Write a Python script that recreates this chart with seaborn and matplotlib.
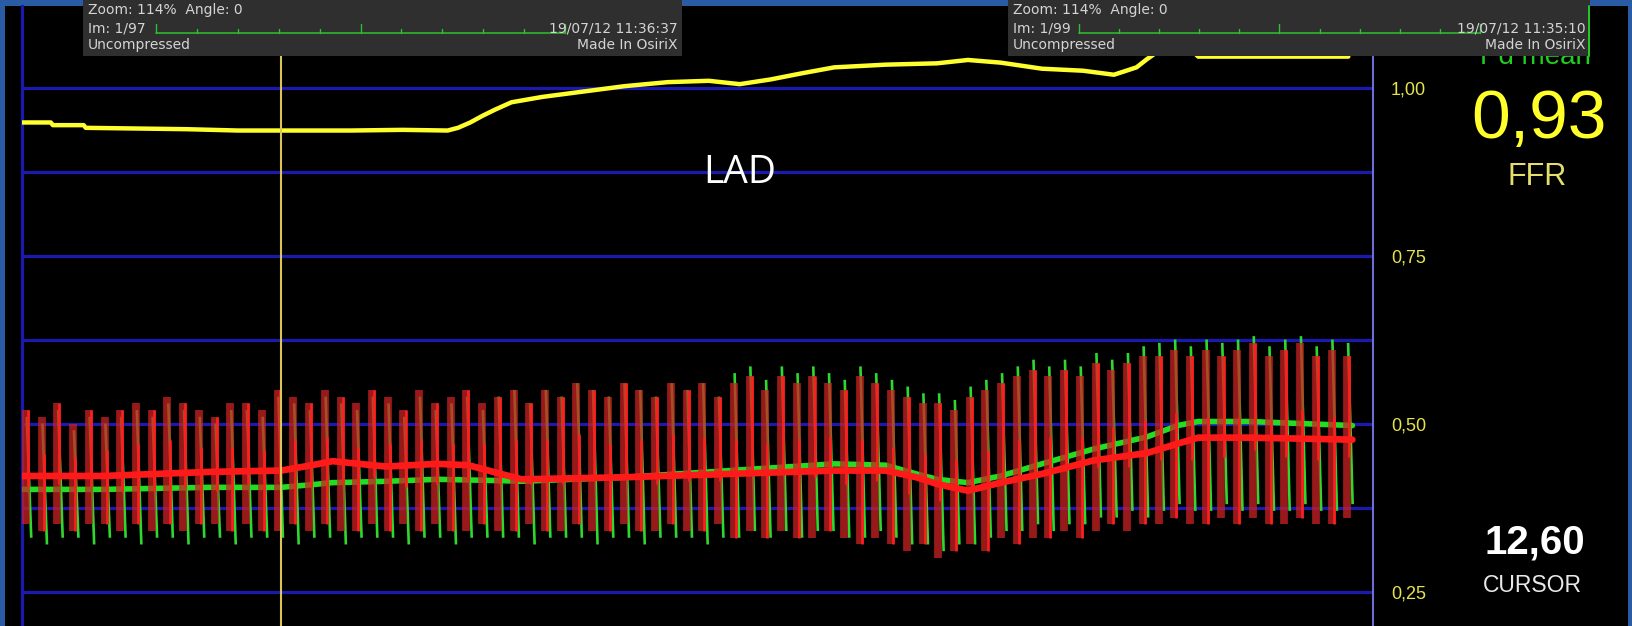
import numpy as np
import pandas as pd
import matplotlib
matplotlib.use("Agg")
import matplotlib.pyplot as plt
from matplotlib.patches import Rectangle
from matplotlib.lines import Line2D
from matplotlib.collections import LineCollection
import seaborn as sns

# ---------------- data ----------------
# FFR trace (Pd/Pa), time in seconds
ffr_t = [0.0, 1.4, 1.5, 3.0, 3.1, 8.0, 10.5, 16.0, 18.5, 20.7, 21.2, 21.8, 22.4, 23.0,
         23.8, 25.3, 27.3, 29.3, 31.4, 33.4, 34.9, 36.4, 37.9, 39.5, 42.0, 44.5, 46.0,
         47.6, 49.6, 51.6, 53.1, 54.2, 54.7, 55.3, 56.8, 57.2, 64.5]
ffr_v = [0.948, 0.948, 0.944, 0.944, 0.940, 0.938, 0.936, 0.936, 0.937, 0.936, 0.940,
         0.948, 0.958, 0.967, 0.978, 0.986, 0.994, 1.002, 1.008, 1.010, 1.005, 1.012,
         1.021, 1.030, 1.034, 1.036, 1.041, 1.037, 1.028, 1.025, 1.019, 1.030, 1.042,
         1.055, 1.058, 1.046, 1.046]

# mean pressures (normalised scale)
mean_t = [0.0, 4.0, 9.1, 12.6, 14.1, 15.1, 17.7, 20.2, 21.7, 23.3, 24.3, 29.3, 34.4,
          39.5, 42.0, 43.5, 44.5, 46.0, 47.6, 49.6, 52.1, 54.7, 56.2, 57.2, 59.7, 64.7]
pa_mean = [0.422, 0.422, 0.428, 0.430, 0.438, 0.444, 0.436, 0.440, 0.438, 0.425, 0.417,
           0.420, 0.425, 0.430, 0.430, 0.420, 0.410, 0.400, 0.412, 0.425, 0.445, 0.456,
           0.470, 0.479, 0.479, 0.476]
pd_mean = [0.402, 0.402, 0.405, 0.405, 0.409, 0.412, 0.414, 0.417, 0.416, 0.415, 0.414,
           0.420, 0.430, 0.440, 0.438, 0.425, 0.417, 0.412, 0.422, 0.440, 0.462, 0.480,
           0.497, 0.503, 0.503, 0.497]

# per-beat pulsatile extremes
beat_t0 = 0.19
beat_period = 0.765
pa_max = [0.52, 0.51, 0.53, 0.50, 0.52, 0.51, 0.52, 0.53, 0.52, 0.54, 0.53, 0.52, 0.51, 0.53, 0.53, 0.52,
          0.55, 0.54, 0.53, 0.55, 0.54, 0.53, 0.55, 0.54, 0.52, 0.55, 0.53, 0.54, 0.55, 0.53,
          0.54, 0.55, 0.53, 0.55, 0.54, 0.56, 0.55, 0.54, 0.56, 0.55, 0.54, 0.56, 0.55, 0.56, 0.54,
          0.56, 0.57, 0.55, 0.57, 0.56, 0.57, 0.56, 0.55, 0.57, 0.56,
          0.55, 0.54, 0.53, 0.53, 0.52, 0.54, 0.55,
          0.56, 0.57, 0.58, 0.57, 0.58, 0.57,
          0.59, 0.58, 0.59, 0.60,
          0.60, 0.61, 0.60, 0.61, 0.60, 0.61, 0.62, 0.60, 0.61, 0.62, 0.60, 0.61, 0.60]
pa_min = [0.35, 0.34, 0.35, 0.34, 0.35, 0.35, 0.34, 0.35, 0.34, 0.35, 0.34, 0.35, 0.35, 0.34, 0.35, 0.34,
          0.34, 0.35, 0.34, 0.35, 0.34, 0.34, 0.35, 0.34, 0.35, 0.34, 0.35, 0.34, 0.34, 0.35,
          0.34, 0.34, 0.35, 0.34, 0.34, 0.35, 0.34, 0.34, 0.35, 0.34, 0.34, 0.35, 0.34, 0.34, 0.35,
          0.33, 0.34, 0.33, 0.34, 0.33, 0.33, 0.34, 0.33, 0.32, 0.33,
          0.32, 0.31, 0.32, 0.30, 0.31, 0.32, 0.31,
          0.33, 0.32, 0.33, 0.33, 0.34, 0.33,
          0.34, 0.35, 0.34, 0.35,
          0.35, 0.36, 0.35, 0.35, 0.36, 0.35, 0.36, 0.35, 0.35, 0.36, 0.35, 0.35, 0.36]
pd_max = [0.51, 0.50, 0.52, 0.49, 0.51, 0.50, 0.51, 0.52, 0.51, 0.53, 0.52, 0.51, 0.50, 0.52, 0.52, 0.51,
          0.54, 0.53, 0.52, 0.54, 0.53, 0.52, 0.54, 0.53, 0.51, 0.54, 0.52, 0.53, 0.54, 0.52,
          0.54, 0.55, 0.53, 0.55, 0.54, 0.56, 0.55, 0.54, 0.56, 0.55, 0.54, 0.56, 0.55, 0.56, 0.54,
          0.575, 0.585, 0.565, 0.585, 0.575, 0.585, 0.575, 0.565, 0.585, 0.575,
          0.565, 0.555, 0.545, 0.545, 0.535, 0.555, 0.565,
          0.575, 0.585, 0.595, 0.585, 0.595, 0.585,
          0.605, 0.595, 0.605, 0.615,
          0.62, 0.625, 0.615, 0.625, 0.62, 0.625, 0.63, 0.615, 0.625, 0.63, 0.615, 0.625, 0.62]
pd_min = [0.33, 0.32, 0.33, 0.33, 0.32, 0.33, 0.33, 0.32, 0.33, 0.33, 0.32, 0.33, 0.33, 0.32, 0.33, 0.33,
          0.33, 0.32, 0.33, 0.33, 0.32, 0.33, 0.33, 0.33, 0.32, 0.33, 0.33, 0.32, 0.33, 0.33,
          0.33, 0.33, 0.32, 0.33, 0.33, 0.33, 0.32, 0.33, 0.33, 0.32, 0.33, 0.33, 0.33, 0.32, 0.33,
          0.33, 0.34, 0.33, 0.34, 0.33, 0.34, 0.34, 0.33, 0.33, 0.34,
          0.33, 0.32, 0.32, 0.31, 0.32, 0.32, 0.33,
          0.34, 0.34, 0.35, 0.34, 0.35, 0.35,
          0.36, 0.36, 0.37, 0.36,
          0.37, 0.38, 0.37, 0.37, 0.38, 0.37, 0.38, 0.37, 0.37, 0.38, 0.37, 0.37, 0.38]

cursor_t = 12.60
ytick_vals = [1.00, 0.75, 0.50, 0.25]
ytick_labels = ["1,00", "0,75", "0,50", "0,25"]
grid_minor = [0.375, 0.625, 0.875]
x_range = (0.0, 65.7)
y_range = (0.1987, 1.1213)

ffr_text = "0,93"
cursor_text = "12,60"
vessel = "LAD"
overlay_1 = ["Zoom: 114%  Angle: 0", "Im: 1/97", "19/07/12 11:36:37", "Uncompressed", "Made In OsiriX"]
overlay_2 = ["Zoom: 114%  Angle: 0", "Im: 1/99", "19/07/12 11:35:10", "Uncompressed", "Made In OsiriX"]

# ---------------- figure ----------------
sns.set_theme(style="dark")
plt.rcParams["font.family"] = ["Liberation Sans", "DejaVu Sans"]

W, H = 1633, 626
fig = plt.figure(figsize=(W / 100, H / 100), dpi=100)
fig.patch.set_facecolor("#2a5ca6")


def fx(px):
    return px / W


def fy(py):
    return 1 - py / H


# black screen area
fig.add_artist(Rectangle((fx(5), 0), fx(1628) - fx(5), fy(6), transform=fig.transFigure,
                         facecolor="black", edgecolor="none", zorder=-5))

ax = fig.add_axes([fx(22), 0, fx(1373) - fx(22), fy(6)])
ax.set_facecolor("black")
ax.set_xlim(*x_range)
ax.set_ylim(*y_range)
ax.set_axisbelow(True)

# grid lines
GRID = "#1a1aae"
ax.set_yticks(ytick_vals)
ax.set_yticklabels(ytick_labels)
ax.set_yticks(grid_minor, minor=True)
ax.yaxis.tick_right()
ax.tick_params(axis="y", which="both", length=0, pad=13, labelcolor="#e6e44c",
               labelsize=13)
ax.set_xticks([])
ax.grid(True, which="both", axis="y", color=GRID, linewidth=2.3)
ax.grid(False, axis="x")
for s in ["top", "bottom"]:
    ax.spines[s].set_visible(False)
ax.spines["left"].set_color(GRID)
ax.spines["left"].set_linewidth(2.3)
ax.spines["right"].set_color("#6d6dd6")
ax.spines["right"].set_linewidth(1.5)

# pulsatile beats
n = len(pa_max)
bt = beat_t0 + beat_period * np.arange(n)
pa_max_a, pa_min_a = np.array(pa_max), np.array(pa_min)
pd_max_a, pd_min_a = np.array(pd_max), np.array(pd_min)

green_segs = [[(t + 0.04, hi), (t + 0.26, lo)] for t, hi, lo in zip(bt, pd_max_a, pd_min_a)]
ax.add_collection(LineCollection(green_segs, colors="#2ed82e", linewidths=1.9, zorder=2))

pd_df = pd.DataFrame({"t": mean_t, "Pd": pd_mean, "Pa": pa_mean})
sns.lineplot(data=pd_df, x="t", y="Pd", ax=ax, color="#22dd22", linewidth=4.0,
             zorder=3, legend=False)

ax.vlines(bt, pa_min_a, pa_max_a, colors="#cc2222", alpha=0.75, linewidth=5.6, zorder=4)

mid = (pa_max_a + pa_min_a) / 2
lo_r = np.where(np.arange(n) % 2 == 0, mid - 0.03, pa_min_a)
hi_r = np.where(np.arange(n) % 2 == 0, pa_max_a, mid + 0.03)
ax.vlines(bt + 0.1, lo_r, hi_r, colors="#ff1e1e", linewidth=1.9, zorder=5)

sns.lineplot(data=pd_df, x="t", y="Pa", ax=ax, color="#ff1a1a", linewidth=4.8,
             zorder=6, legend=False)

ffr_df = pd.DataFrame({"t": ffr_t, "FFR": ffr_v})
sns.lineplot(data=ffr_df, x="t", y="FFR", ax=ax, color="#ffff2e", linewidth=3.2,
             zorder=6, legend=False)

ax.axvline(cursor_t, color="#d8c658", linewidth=1.5, zorder=7)
ax.set_xlabel("")
ax.set_ylabel("")

# ---------------- right panel texts ----------------
fig.text(fx(1535), fy(64), "Pd mean", color="#1fcf1f", fontsize=20, ha="center",
         va="baseline", zorder=5)
fig.text(fx(1539), fy(138), ffr_text, color="#ffff2a", fontsize=50, ha="center",
         va="baseline", zorder=6)
fig.text(fx(1537), fy(185), "FFR", color="#e4df6c", fontsize=22, ha="center",
         va="baseline", zorder=6)
fig.text(fx(1535), fy(554), cursor_text, color="white", fontsize=29, fontweight="bold",
         ha="center", va="baseline", zorder=6)
fig.text(fx(1532), fy(592), "CURSOR", color="#e8e8e8", fontsize=16.5, ha="center",
         va="baseline", zorder=6)
fig.text(fx(740), fy(183), vessel, color="white", fontsize=28, ha="center",
         va="baseline", family=["Open Sans", "DejaVu Sans"], zorder=8)

# ---------------- OsiriX overlay boxes ----------------
def overlay(x0, x1, tl0, tl1, texts):
    fig.add_artist(Rectangle((fx(x0), fy(56)), fx(x1) - fx(x0), 56 / H,
                             transform=fig.transFigure, facecolor="#2f2f2f",
                             edgecolor="none", zorder=10))
    kw = dict(color="#d4d4d4", fontsize=10, va="center", zorder=12,
              family=["DejaVu Sans"])
    fig.text(fx(x0 + 5), fy(10), texts[0], ha="left", **kw)
    fig.text(fx(x0 + 5), fy(28), texts[1], ha="left", **kw)
    fig.text(fx(x1 - 4), fy(28), texts[2], ha="right", **kw)
    fig.text(fx(x0 + 5), fy(45), texts[3], ha="left", **kw)
    fig.text(fx(x1 - 4), fy(45), texts[4], ha="right", **kw)
    g = "#2fc02f"
    fig.add_artist(Line2D([fx(tl0), fx(tl1)], [fy(33), fy(33)], transform=fig.transFigure,
                          color=g, linewidth=1.1, zorder=11))
    for k, xt in enumerate(np.linspace(tl0, tl1, 11)):
        h = 9 if k in (0, 5, 10) else 4
        fig.add_artist(Line2D([fx(xt), fx(xt)], [fy(33), fy(33 - h)],
                              transform=fig.transFigure, color=g, linewidth=1.0, zorder=11))


overlay(83, 682, 156, 565, overlay_1)
overlay(1008, 1590, 1079, 1480, overlay_2)
fig.add_artist(Line2D([fx(1589), fx(1589)], [fy(6), fy(56)], transform=fig.transFigure,
                      color="#22cc22", linewidth=1.4, zorder=11))

fig.savefig("out.png", dpi=100, facecolor=fig.get_facecolor())
